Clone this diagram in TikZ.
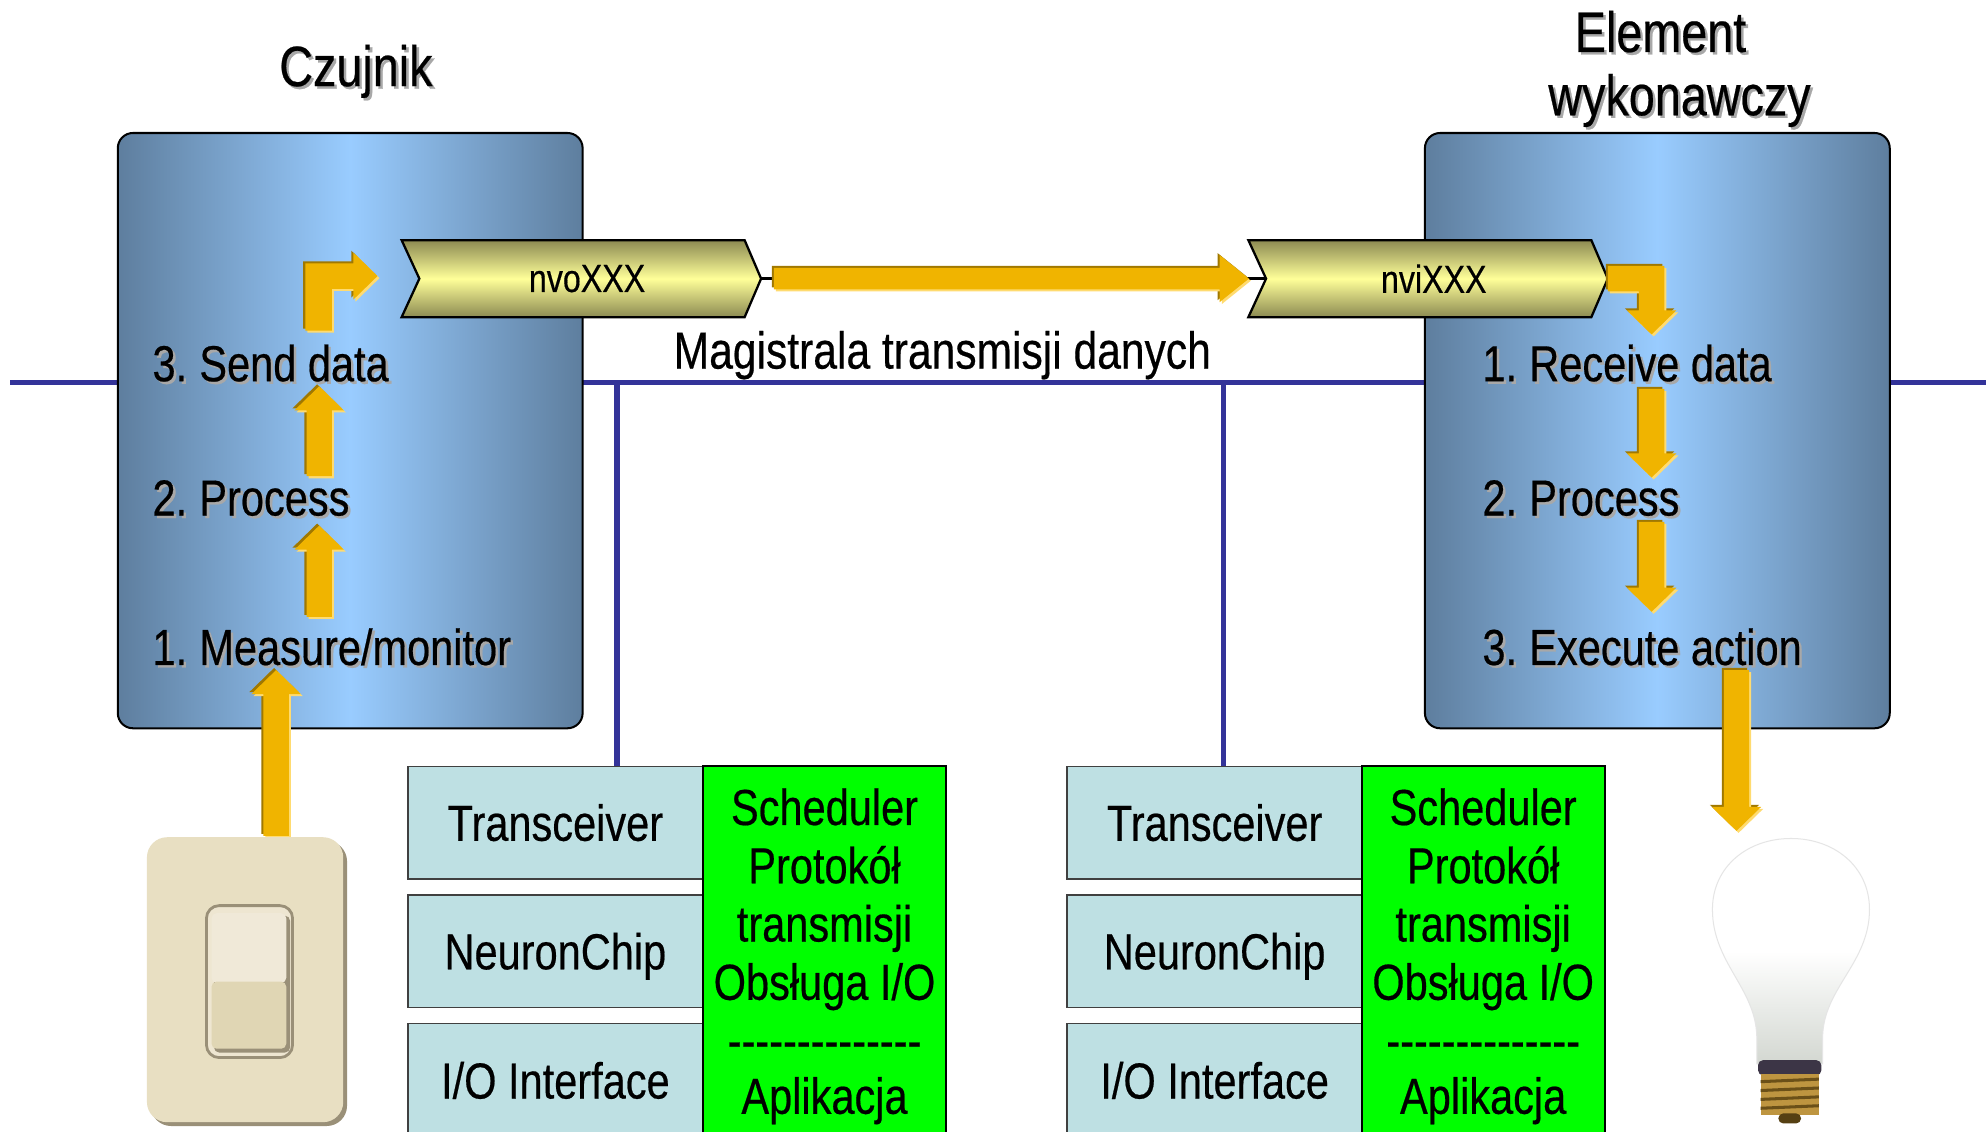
\documentclass[tikz,border=0pt]{standalone}
\usepackage{fontspec}
\setmainfont{Liberation Sans}[FakeStretch=0.82,FakeBold=0.4]
\usetikzlibrary{calc}

\definecolor{busblue}{HTML}{333399}
\definecolor{boxedge}{HTML}{5E7E9E}
\definecolor{boxmid}{HTML}{99CCFF}
\definecolor{chevdark}{HTML}{8C8A52}
\definecolor{chevlight}{HTML}{FFFF99}
\definecolor{arrowgold}{HTML}{F0B400}
\definecolor{arrowdark}{HTML}{A07800}
\definecolor{arrowlight}{HTML}{FFDB70}
\definecolor{layercyan}{HTML}{BEE0E3}
\definecolor{layergreen}{HTML}{00FF00}
\definecolor{txtshadow}{HTML}{A8A8A8}
\definecolor{plate}{HTML}{E8DFC2}
\definecolor{plateshadow}{HTML}{9A9078}
\definecolor{toggletop}{HTML}{F0E9D8}
\definecolor{togglebottom}{HTML}{E0D6B4}
\definecolor{bulbneck}{HTML}{D3D7D1}
\definecolor{brass}{HTML}{BE9540}
\definecolor{brassdark}{HTML}{6B5018}
\definecolor{socketband}{HTML}{3C3546}

% gold block arrows with a dark upper-left and a light lower-right rim
\newcommand\vblock[2]{% straight vertical arrow from #1 to tip #2
  \foreach \dx/\dy/\col in {-0.8pt/0.8pt/arrowdark,0.8pt/-0.8pt/arrowlight,0pt/0pt/arrowgold}{%
    \fill[\col] let \p1=($(#1)+(\dx,\dy)$), \p2=($(#2)+(\dx,\dy)$),
      \n1={(\y2-\y1)/abs(\y2-\y1)} in
      (\x1-5pt,\y1) -- (\x1-5pt,\y2-\n1*9.5pt) -- (\x1-9.75pt,\y2-\n1*9.5pt)
      -- (\x1,\y2) -- (\x1+9.75pt,\y2-\n1*9.5pt) -- (\x1+5pt,\y2-\n1*9.5pt)
      -- (\x1+5pt,\y1) -- cycle;}}
\newcommand\hblock[2]{% straight horizontal arrow from #1 to tip #2
  \foreach \dx/\dy/\col in {-0.8pt/0.8pt/arrowdark,0.8pt/-0.8pt/arrowlight,0pt/0pt/arrowgold}{%
    \fill[\col] let \p1=($(#1)+(\dx,\dy)$), \p2=($(#2)+(\dx,\dy)$) in
      (\x1,\y1+4.25pt) -- (\x2-11.5pt,\y1+4.25pt) -- (\x2-11.5pt,\y1+9.25pt)
      -- (\x2,\y1) -- (\x2-11.5pt,\y1-9.25pt) -- (\x2-11.5pt,\y1-4.25pt)
      -- (\x1,\y1-4.25pt) -- cycle;}}
\newcommand\elbowupright[2]{% up from #1, then right to tip #2
  \foreach \dx/\dy/\col in {-0.8pt/0.8pt/arrowdark,0.8pt/-0.8pt/arrowlight,0pt/0pt/arrowgold}{%
    \fill[\col] let \p1=($(#1)+(\dx,\dy)$), \p2=($(#2)+(\dx,\dy)$) in
      (\x1-5.25pt,\y1) -- (\x1-5.25pt,\y2+5pt) -- (\x2-9.5pt,\y2+5pt)
      -- (\x2-9.5pt,\y2+9.25pt) -- (\x2,\y2) -- (\x2-9.5pt,\y2-9.25pt)
      -- (\x2-9.5pt,\y2-5pt) -- (\x1+5.25pt,\y2-5pt) -- (\x1+5.25pt,\y1) -- cycle;}}
\newcommand\elbowrightdown[2]{% right from #1, then down to tip #2
  \foreach \dx/\dy/\col in {-0.8pt/0.8pt/arrowdark,0.8pt/-0.8pt/arrowlight,0pt/0pt/arrowgold}{%
    \fill[\col] let \p1=($(#1)+(\dx,\dy)$), \p2=($(#2)+(\dx,\dy)$) in
      (\x1,\y1+5pt) -- (\x2+5pt,\y1+5pt) -- (\x2+5pt,\y2+9.5pt)
      -- (\x2+9.75pt,\y2+9.5pt) -- (\x2,\y2) -- (\x2-9.75pt,\y2+9.5pt)
      -- (\x2-5pt,\y2+9.5pt) -- (\x2-5pt,\y1-5pt) -- (\x1,\y1-5pt) -- cycle;}}

% text with a soft grey drop shadow: style, name, position, text
\newcommand\shadowed[4]{%
  \node[#1, text=txtshadow, xshift=1pt, yshift=-1pt] at #3 {#4};
  \node[#1] (#2) at #3 {#4};}

% chevron-shaped variable tag: name, label, centre of body
\newcommand\chevron[3]{%
  \node[chevbody] (#1) at #3 {};
  \filldraw[chevfill] (#1.north west) -- (#1.north east) -- ($(#1.east)+(13,0)$)
    -- (#1.south east) -- (#1.south west) -- ($(#1.west)+(14,0)$) -- cycle;
  \coordinate (#1tip) at ($(#1.east)+(13,0)$);
  \coordinate (#1notch) at ($(#1.west)+(14,0)$);
  \node[chevtext] (#1label) at ($(#1.center)+(11,0)$) {#2};}

\newcommand\numbered[2]{\makebox[18.5pt][l]{#1}#2}

\begin{document}
\begin{tikzpicture}[x=0.5pt,y=-0.5pt,
  bus/.style={draw=busblue, line width=2.2pt},
  devbox/.style={draw=black, line width=0.8pt, rounded corners=6pt,
    left color=boxedge, right color=boxedge, middle color=boxmid,
    minimum width=183.5pt, minimum height=235pt, inner sep=0pt},
  chevbody/.style={minimum width=135pt, minimum height=30pt, inner sep=0pt},
  chevfill/.style={draw=black, line width=0.9pt,
    top color=chevdark, bottom color=chevdark, middle color=chevlight},
  chevtext/.style={inner sep=0pt, font=\fontsize{15.5}{18}\selectfont},
  steptext/.style={anchor=base west, inner sep=0pt, font=\fontsize{20}{24}\selectfont},
  titletext/.style={anchor=base, inner sep=0pt, font=\fontsize{22.5}{27}\selectfont},
  layer/.style={draw=black!75, line width=0.6pt, fill=layercyan,
    minimum width=116.5pt, minimum height=44.5pt, inner sep=0pt,
    font=\fontsize{20}{24}\selectfont, text height=14.3pt, text depth=0pt},
  software/.style={draw=black, line width=0.8pt, fill=layergreen,
    minimum width=96pt, minimum height=150pt, inner sep=0pt, align=center,
    font=\fontsize{20}{23}\selectfont},
]
\useasboundingbox (0,0) rectangle (1568,893);
\clip (0,0) rectangle (1568,893);
\fill[white] (0,0) rectangle (1568,893);

% data bus with the two node taps
\coordinate (busL) at (8,302);
\coordinate (busR) at (1568,302);
\draw[bus] (busL) -- (busR);

% protocol stacks
\node[layer] (tranL) at (438.5,649.5) {Transceiver};
\node[layer] (neuL)  at (438.5,751)   {NeuronChip};
\node[layer, minimum height=45pt] (ioL) at (438.5,853) {I/O Interface};
\node[software] (swL) at (651,755)
  {Scheduler\\Protokół\\transmisji\\Obsługa I/O\\-{}-{}-{}-{}-{}-{}-{}-{}-{}-{}-{}-{}-{}-\\[-1pt]Aplikacja};
\node[layer] (tranR) at (959,649.5) {Transceiver};
\node[layer] (neuR)  at (959,751)   {NeuronChip};
\node[layer, minimum height=45pt] (ioR) at (959,853) {I/O Interface};
\node[software] (swR) at (1171,755)
  {Scheduler\\Protokół\\transmisji\\Obsługa I/O\\-{}-{}-{}-{}-{}-{}-{}-{}-{}-{}-{}-{}-{}-\\[-1pt]Aplikacja};

\coordinate (tapL) at (487,302);
\coordinate (tapR) at (966,302);
\draw[bus] (tapL) -- (tapL |- tranL.north);
\draw[bus] (tapR) -- (tapR |- tranR.north);

% device blocks
\node[devbox] (sensor)   at (276.5,340) {};
\node[devbox] (actuator) at (1308.5,340) {};

% titles
\shadowed{titletext}{sensortitle}{(281,68)}{Czujnik}
\shadowed{titletext}{actuatortitleA}{(1311,41)}{Element}
\shadowed{titletext}{actuatortitleB}{(1326,91)}{wykonawczy}

% network variables and the transfer between them
\chevron{nvo}{nvoXXX}{(452.5,220)}
\chevron{nvi}{nviXXX}{(1121,220)}
\draw[black, line width=1pt] (nvotip) -- (nvinotch);
\coordinate (sendA) at (611,220);
\coordinate (sendB) at (986,220);
\hblock{sendA}{sendB}

\node[anchor=base, inner sep=0pt, font=\fontsize{20.5}{24}\selectfont] (buslabel)
  at (744,291) {Magistrala transmisji danych};

% sensor steps
\shadowed{steptext}{s3}{(120,301)}{\numbered{3.}{Send data}}
\shadowed{steptext}{s2}{(120,407)}{\numbered{2.}{Process}}
\shadowed{steptext}{s1}{(120,525)}{\numbered{1.}{Measure/monitor}}

% actuator steps
\shadowed{steptext}{a1}{(1170,301)}{\numbered{1.}{Receive data}}
\shadowed{steptext}{a2}{(1170,407)}{\numbered{2.}{Process}}
\shadowed{steptext}{a3}{(1170,525)}{\numbered{3.}{Execute action}}

% flow arrows inside the sensor
\coordinate (inA) at (218,660);  \coordinate (inB) at (218,529);
\coordinate (m2pA) at (252,487); \coordinate (m2pB) at (252,415);
\coordinate (p2sA) at (252,376); \coordinate (p2sB) at (252,305);
\coordinate (sendUp) at (251.5,261); \coordinate (sendTip) at (298,218);
\vblock{inA}{inB}
\vblock{m2pA}{m2pB}
\vblock{p2sA}{p2sB}
\elbowupright{sendUp}{sendTip}

% flow arrows inside the actuator
\coordinate (recvTip) at (1304,264);
\coordinate (r2pA) at (1304,307); \coordinate (r2pB) at (1304,377);
\coordinate (p2eA) at (1304,412); \coordinate (p2eB) at (1304,483);
\coordinate (outA) at (1371,529); \coordinate (outB) at (1371,656);
\elbowrightdown{nvitip}{recvTip}
\vblock{r2pA}{r2pB}
\vblock{p2eA}{p2eB}
\vblock{outA}{outB}

% wall switch
\fill[plateshadow, rounded corners=8pt] (119,664) rectangle (274,889);
\fill[plate, rounded corners=8pt] (116,661) rectangle (271,886);
\filldraw[draw=plateshadow, line width=1.1pt, fill=toggletop!70!plate, rounded corners=5pt]
  (163,715) rectangle (231,835);
\fill[plateshadow, rounded corners=2pt] (169,723) rectangle (229,831);
\fill[toggletop, rounded corners=2pt] (167,721) rectangle (226,776);
\fill[togglebottom, rounded corners=2pt] (167,775) rectangle (226,828);

% light bulb
\shade[top color=white, bottom color=bulbneck, middle color=white, draw=black!10, line width=0.4pt]
  (1387,840) -- (1387,818) .. controls (1386,780) and (1352,760) .. (1352,718)
  .. controls (1352,684) and (1380,662) .. (1414,662)
  .. controls (1448,662) and (1476,684) .. (1476,718)
  .. controls (1476,760) and (1440,780) .. (1439,818) -- (1439,840) -- cycle;
\fill[socketband, rounded corners=2pt] (1388,837) rectangle (1438,849);
\fill[brass] (1390,848) rectangle (1436,880);
\foreach \t in {853,860,867,874}
  \draw[brassdark, line width=1.2pt] (1390,\t+1) -- (1436,\t-1);
\fill[brassdark!80!black, rounded corners=2pt] (1404,879) rectangle (1422,887);
\end{tikzpicture}
\end{document}
